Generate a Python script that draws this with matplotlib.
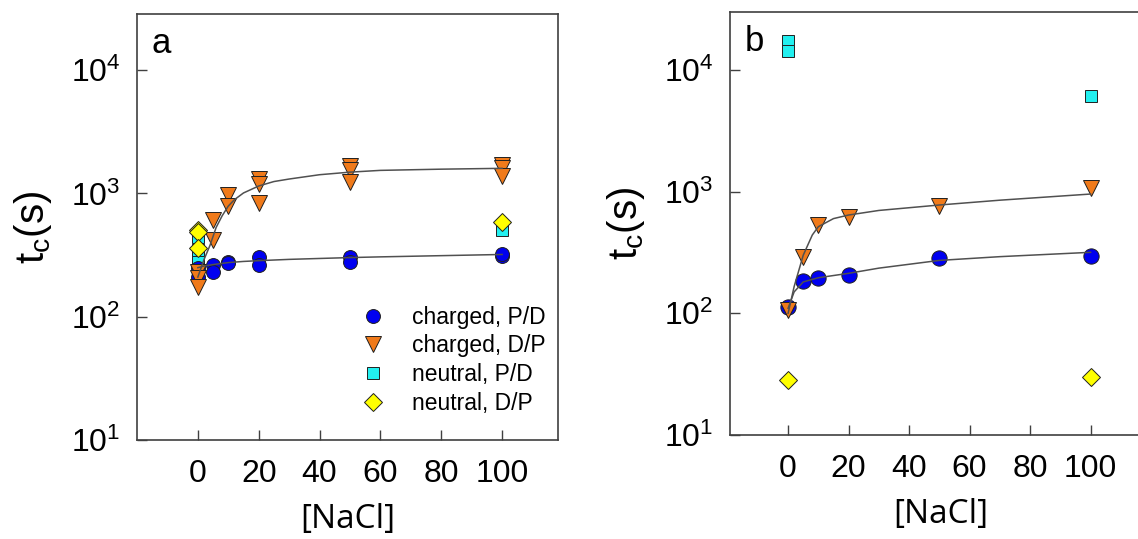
import matplotlib
matplotlib.use('Agg')
import matplotlib.pyplot as plt
import numpy as np

plt.rcParams['font.family'] = ['Liberation Sans', 'DejaVu Sans']
plt.rcParams['mathtext.fontset'] = 'custom'
plt.rcParams['mathtext.rm'] = 'Liberation Sans'
plt.rcParams['mathtext.it'] = 'Liberation Sans:italic'

# ---------- panel a data ----------
a_cpd_x = [0, 0, 5, 5, 10, 10, 20, 20, 50, 50, 100, 100]
a_cpd_y = [211, 250, 263, 229, 280, 272, 307, 263, 307, 280, 310, 325]

a_cdp_x = [0, 0, 0, 5, 5, 10, 10, 20, 20, 20, 50, 50, 50, 100, 100, 100]
a_cdp_y = [232, 208, 175, 615, 423, 980, 797, 1300, 1183, 845,
           1660, 1540, 1250, 1700, 1600, 1380]

a_npd_x = [0, 0, 0, 0, 100]
a_npd_y = [447, 350, 280, 240, 510]

a_ndp_x = [0, 0, 0, 100]
a_ndp_y = [510, 490, 363, 590]

# fit curves
a_fit_cpd_x = [0, 2, 5, 10, 15, 20, 30, 40, 50, 60, 80, 100]
a_fit_cpd_y = [250, 258, 265, 275, 281, 285, 292, 297, 302, 306, 313, 320]
a_fit_cdp_x = [0, 2, 4, 6, 8, 10, 12, 15, 20, 25, 30, 40, 50, 60, 80, 100]
a_fit_cdp_y = [210, 290, 380, 530, 660, 790, 890, 1010, 1150, 1250, 1310,
               1420, 1490, 1540, 1575, 1600]

# ---------- panel b data ----------
b_cpd_x = [0, 5, 10, 20, 50, 100]
b_cpd_y = [112, 184, 194, 207, 286, 296]
b_cdp_x = [0, 5, 10, 20, 50, 100]
b_cdp_y = [106, 292, 532, 622, 762, 1077]
b_npd_x = [0, 0, 100]
b_npd_y = [17400, 14400, 6110]
b_ndp_x = [0, 100]
b_ndp_y = [28.3, 30.1]

b_fit_cpd_x = [0, 2, 5, 10, 20, 30, 50, 70, 100]
b_fit_cpd_y = [110, 150, 181, 196, 213, 235, 272, 292, 317]
b_fit_cdp_x = [0, 2, 5, 8, 10, 15, 20, 30, 50, 70, 100]
b_fit_cdp_y = [100, 166, 300, 440, 515, 600, 642, 700, 776, 850, 955]

x_ticks = [0, 20, 40, 60, 80, 100]

BLUE = '#0000f0'
ORANGE = '#f07a1a'
CYAN = '#22f0f0'
YELLOW = '#ffff00'
LINE = '#505050'

fig = plt.figure(figsize=(11.38, 5.39), dpi=100)
ax_a = fig.add_axes([0.1204, 0.1837, 0.370, 0.790])
ax_b = fig.add_axes([0.6415, 0.193, 0.370, 0.785])

mk = dict(markeredgecolor='#202020', markeredgewidth=0.7, linestyle='none')


def style_axes(ax, xlim, ytop, letter):
    ax.set_yscale('log')
    ax.set_xlim(*xlim)
    ax.set_ylim(10, ytop)
    ax.set_xticks(x_ticks)
    ax.set_yticks([10, 100, 1000, 10000])
    ax.minorticks_off()
    ax.tick_params(direction='in', length=7, width=1, color='#404040',
                   labelsize=23)
    ax.tick_params(axis='x', pad=14)
    ax.tick_params(axis='y', pad=12)
    for s in ax.spines.values():
        s.set_color('#404040')
        s.set_linewidth(1.2)
    ax.set_xlabel('[NaCl]', fontsize=24, family=['Open Sans', 'DejaVu Sans'],
                  labelpad=10)
    ax.set_ylabel(r'$\mathregular{t_c(s)}$', fontsize=29, labelpad=12)
    ax.text(0.057, 0.93, letter, transform=ax.transAxes, fontsize=25,
            ha='center', va='center')


# panel a
ax_a.plot(a_npd_x, a_npd_y, 's', color=CYAN, markersize=9, label='neutral, P/D', **mk)
ax_a.plot(a_cpd_x, a_cpd_y, 'o', color=BLUE, markersize=10, label='charged, P/D', **mk)
ax_a.plot(a_cdp_x, a_cdp_y, 'v', color=ORANGE, markersize=11, label='charged, D/P', **mk)
ax_a.plot(a_ndp_x, a_ndp_y, 'D', color=YELLOW, markersize=9, label='neutral, D/P', **mk)
ax_a.plot(a_fit_cpd_x, a_fit_cpd_y, '-', color=LINE, lw=1.1, zorder=5)
ax_a.plot(a_fit_cdp_x, a_fit_cdp_y, '-', color=LINE, lw=1.1, zorder=5)
style_axes(ax_a, (-20, 118.4), 28500, 'a')

h, l = ax_a.get_legend_handles_labels()
order = [1, 2, 0, 3]
ax_a.legend([h[i] for i in order], [l[i] for i in order], loc='upper left',
            bbox_to_anchor=(0.485, 0.337), frameon=False, fontsize=16.5,
            handletextpad=0.7, labelspacing=0.25, borderaxespad=0)

# panel b
ax_b.plot(b_npd_x, b_npd_y, 's', color=CYAN, markersize=9, **mk)
ax_b.plot(b_cpd_x, b_cpd_y, 'o', color=BLUE, markersize=11, **mk)
ax_b.plot(b_cdp_x, b_cdp_y, 'v', color=ORANGE, markersize=11, **mk)
ax_b.plot(b_ndp_x, b_ndp_y, 'D', color=YELLOW, markersize=9, **mk)
ax_b.plot(b_fit_cpd_x, b_fit_cpd_y, '-', color=LINE, lw=1.1, zorder=5)
ax_b.plot(b_fit_cdp_x, b_fit_cdp_y, '-', color=LINE, lw=1.1, zorder=5)
style_axes(ax_b, (-19.2, 120), 30000, 'b')

fig.savefig('out.png', dpi=100)
